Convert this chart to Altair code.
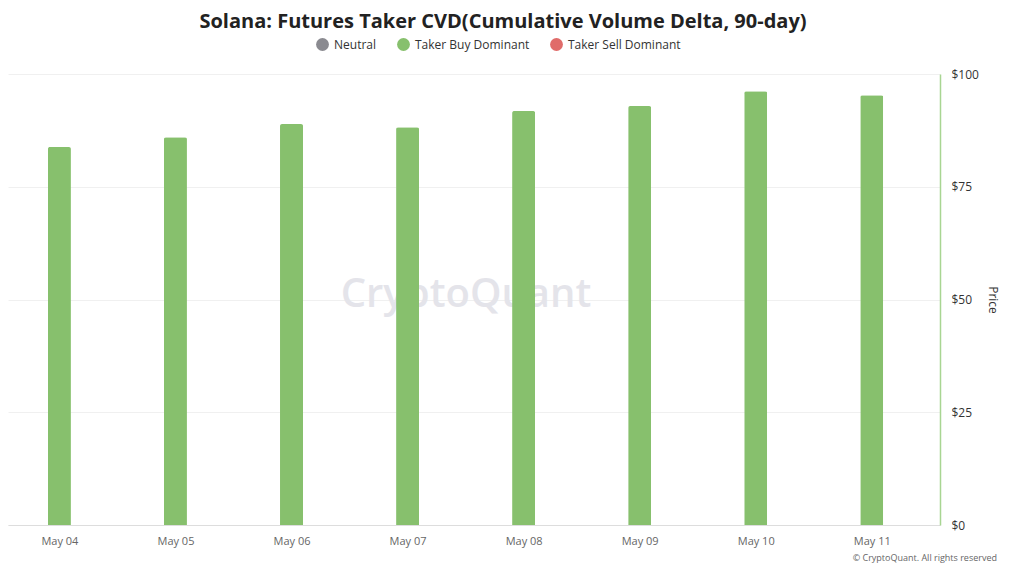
import altair as alt
import pandas as pd

# Data
dates = ["May 04", "May 05", "May 06", "May 07", "May 08", "May 09", "May 10", "May 11"]
values = [83.8, 86.0, 88.9, 88.2, 91.8, 92.9, 96.2, 95.3]
types = ["Taker Buy Dominant"] * 8
categories = ["Neutral", "Taker Buy Dominant", "Taker Sell Dominant"]
cat_colors = ["#8a8a90", "#87c06d", "#e06c6a"]
y_ticks = [0, 25, 50, 75, 100]

df = pd.DataFrame({"idx": list(range(len(dates))), "date": dates, "value": values, "type": types})

W, H = 932, 451
FONT = "Open Sans"

label_expr = "[" + ",".join("'%s'" % d for d in dates) + "][datum.value]"

base = alt.Chart(df)

watermark = alt.Chart(pd.DataFrame({"t": ["CryptoQuant"]})).mark_text(
    font=FONT, fontSize=40, fontWeight=600, color="#e4e4ea", align="center", baseline="middle"
).encode(x=alt.value(458), y=alt.value(221), text="t:N")

bars = base.mark_bar(width=23, cornerRadiusTopLeft=2, cornerRadiusTopRight=2).encode(
    x=alt.X(
        "idx:Q",
        scale=alt.Scale(domain=[-0.40, 7.545], nice=False, zero=False),
        axis=alt.Axis(
            title=None, values=list(range(len(dates))), labelExpr=label_expr,
            grid=False, ticks=False, domain=True, domainColor="#dddddd", domainWidth=1,
            labelColor="#666666", labelFontSize=11, labelFont=FONT, labelPadding=10,
        ),
    ),
    y=alt.Y(
        "value:Q",
        scale=alt.Scale(domain=[0, 100], nice=False),
        axis=alt.Axis(
            orient="right", title="Price", values=y_ticks, labelExpr="'$' + datum.value",
            grid=True, gridColor="#f0f0f0", ticks=False, domain=True,
            domainColor="#a8d592", domainWidth=1.5, labelColor="#333333",
            labelFontSize=12, labelFont=FONT, labelPadding=11,
            titleFont=FONT, titleFontSize=12, titleFontWeight="normal", titleColor="#333333",
            titlePadding=7, titleAngle=90,
        ),
    ),
    color=alt.Color(
        "type:N",
        scale=alt.Scale(domain=categories, range=cat_colors),
        legend=alt.Legend(
            title=None, orient="none", legendX=308, legendY=-36, direction="horizontal",
            symbolType="circle", symbolSize=165, symbolStrokeWidth=0, symbolOpacity=1,
            labelFont=FONT, labelFontSize=12, labelColor="#333333", labelLimit=300,
            columnPadding=20, labelOffset=5,
        ),
    ),
)

copyright_ = alt.Chart(pd.DataFrame({"t": ["© CryptoQuant. All rights reserved"]})).mark_text(
    font=FONT, fontSize=9, color="#666666", align="right", baseline="middle"
).encode(x=alt.value(989), y=alt.value(484), text="t:N")

chart = alt.layer(watermark, bars, copyright_).properties(
    width=W, height=H,
    title=alt.TitleParams(
        "Solana: Futures Taker CVD(Cumulative Volume Delta, 90-day)",
        font=FONT, fontSize=20, fontWeight="bold", color="#222222",
        anchor="middle", dx=29, offset=6,
    ),
    autosize=alt.AutoSizeParams(type="none"),
    padding={"left": 0, "top": 66, "right": 76, "bottom": 38},
).configure(background="white").configure_view(stroke=None, strokeWidth=0)

chart.save("out.html", embed_options={"renderer": "svg", "actions": False})
